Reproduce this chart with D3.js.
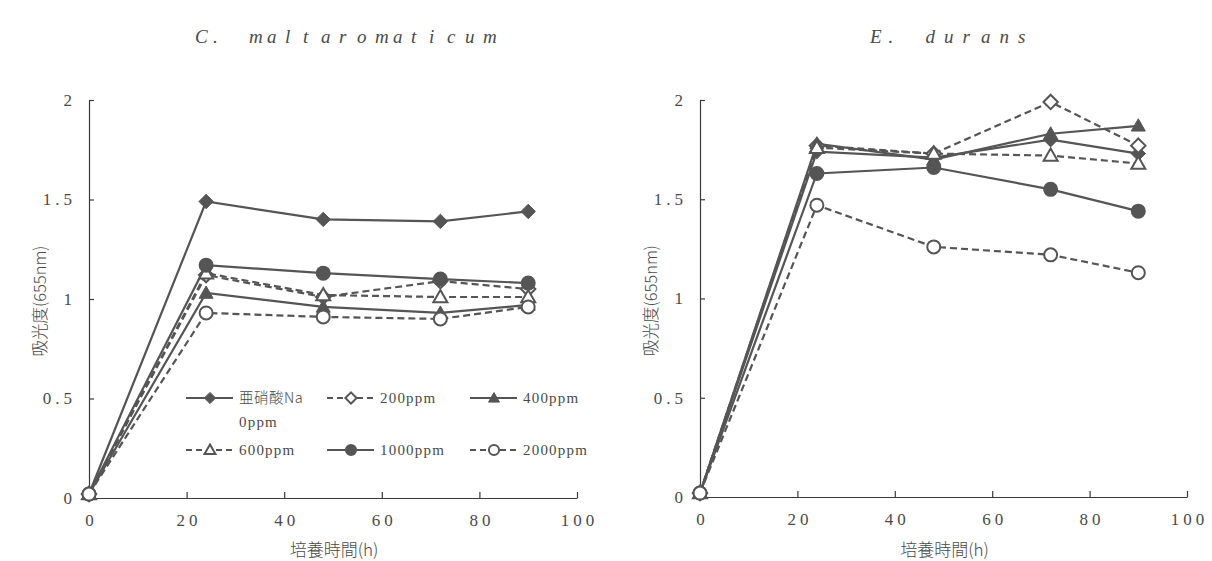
<!DOCTYPE html>
<html><head><meta charset="utf-8">
<script src="https://cdn.jsdelivr.net/npm/d3@7"></script>
<style>
body{margin:0;background:#fff;}
svg{display:block;}
</style></head>
<body>
<svg id="c" width="1212" height="561"></svg>
<script>
// ---- data ----
const hours = [0, 24, 48, 72, 90];
const seriesNames = ["亜硝酸Na 0ppm", "200ppm", "400ppm", "600ppm", "1000ppm", "2000ppm"];
const seriesMarkers = ["diamond", "diamond", "triangle", "triangle", "circle", "circle"];
const seriesFilled = [true, false, true, false, true, false];
const seriesDashed = [false, true, false, true, false, true];

const cmaltValues0 = [0.02, 1.49, 1.40, 1.39, 1.44];
const cmaltValues200 = [0.02, 1.12, 1.01, 1.09, 1.05];
const cmaltValues400 = [0.02, 1.03, 0.96, 0.93, 0.97];
const cmaltValues600 = [0.02, 1.13, 1.02, 1.01, 1.01];
const cmaltValues1000 = [0.02, 1.17, 1.13, 1.10, 1.08];
const cmaltValues2000 = [0.02, 0.93, 0.91, 0.90, 0.96];

const eduranValues0 = [0.02, 1.74, 1.71, 1.80, 1.73];
const eduranValues200 = [0.02, 1.77, 1.73, 1.99, 1.77];
const eduranValues400 = [0.02, 1.78, 1.70, 1.83, 1.87];
const eduranValues600 = [0.02, 1.76, 1.73, 1.72, 1.68];
const eduranValues1000 = [0.02, 1.63, 1.66, 1.55, 1.44];
const eduranValues2000 = [0.02, 1.47, 1.26, 1.22, 1.13];

const xTicks = [0, 20, 40, 60, 80, 100];
const yTicks = [0, 0.5, 1, 1.5, 2];
const titles = ["C. maltaromaticum", "E. durans"];
const xLabel = "培養時間(h)";
const yLabel = "吸光度(655nm)";

const cmalt = [cmaltValues0, cmaltValues200, cmaltValues400, cmaltValues600, cmaltValues1000, cmaltValues2000];
const eduran = [eduranValues0, eduranValues200, eduranValues400, eduranValues600, eduranValues1000, eduranValues2000];

// ---- drawing ----
const svg = d3.select("#c");
const INK = "#555";
const AX = "#3a3a3a";
const TXT = "#4a4a4a";
const serif = "'Liberation Serif', 'DejaVu Serif', serif";
const jp = "'Noto Sans CJK JP', 'Noto Sans', sans-serif";

function marker(g, type, filled, cx, cy, sc) {
  sc = sc || 1;
  const fill = filled ? INK : "#fff";
  if (type === "circle") {
    g.append("circle").attr("cx", cx).attr("cy", cy).attr("r", 6.5 * sc)
      .attr("fill", fill).attr("stroke", INK).attr("stroke-width", 2);
  } else if (type === "diamond") {
    const s = 7.2 * sc;
    g.append("path").attr("d", `M${cx},${cy - s}L${cx + s},${cy}L${cx},${cy + s}L${cx - s},${cy}Z`)
      .attr("fill", fill).attr("stroke", INK).attr("stroke-width", filled ? 1 : 2);
  } else {
    const s = 7 * sc;
    g.append("path").attr("d", `M${cx},${cy - s}L${cx + s},${cy + s * 0.75}L${cx - s},${cy + s * 0.75}Z`)
      .attr("fill", fill).attr("stroke", INK).attr("stroke-width", filled ? 1 : 2);
  }
}

function panel(cfg) {
  const x = d3.scaleLinear().domain([0, 100]).range([cfg.x0, cfg.x1]);
  const y = d3.scaleLinear().domain([0, 2]).range([cfg.y0, cfg.y1]);
  const g = svg.append("g");

  const xa = g.append("g").attr("transform", `translate(0,${cfg.y0})`)
    .call(d3.axisBottom(x).tickValues(xTicks).tickSizeInner(-6).tickSizeOuter(0).tickPadding(16).tickFormat(d3.format("d")));
  const ya = g.append("g").attr("transform", `translate(${cfg.x0},0)`)
    .call(d3.axisLeft(y).tickValues(yTicks).tickSizeInner(-5).tickSizeOuter(0).tickPadding(13).tickFormat(d => String(d)));
  [xa, ya].forEach(a => {
    a.attr("font-family", null).attr("font-size", null);
    a.select(".domain").attr("stroke", AX).attr("stroke-width", 1.2);
    a.selectAll(".tick line").attr("stroke", AX).attr("stroke-width", 1.2);
    a.selectAll(".tick text").attr("fill", TXT).style("font-family", serif)
      .style("font-size", "17px").attr("letter-spacing", 4);
  });
  xa.selectAll(".tick text").attr("dx", 2);

  const line = d3.line().x((d, i) => x(hours[i])).y(d => y(d));
  cfg.data.forEach((vals, k) => {
    g.append("path").attr("d", line(vals)).attr("fill", "none").attr("stroke", INK)
      .attr("stroke-width", 2.2).attr("stroke-dasharray", seriesDashed[k] ? "7,4" : null);
  });
  cfg.data.forEach((vals, k) => {
    vals.forEach((v, i) => marker(g, seriesMarkers[k], seriesFilled[k], x(hours[i]), y(v)));
  });

  // title with monospaced pitch
  const chars = Array.from(cfg.title);
  g.append("text").attr("x", chars.map((c, i) => cfg.titleX + i * cfg.pitch).join(" ")).attr("y", 43)
    .text(cfg.title).style("font-family", serif).attr("font-style", "italic")
    .style("font-size", "19px").attr("fill", TXT);

  g.append("text").attr("x", (cfg.x0 + cfg.x1) / 2 + 1).attr("y", 556).attr("text-anchor", "middle")
    .text(xLabel).style("font-family", jp).style("font-size", "17px").attr("fill", TXT).attr("font-weight", 300);
  g.append("text").attr("transform", `translate(${cfg.x0 - 43},${(cfg.y0 + cfg.y1) / 2 + 2}) rotate(-90)`)
    .attr("text-anchor", "middle").text(yLabel).style("font-family", jp).style("font-size", "16.5px")
    .attr("fill", TXT).attr("font-weight", 300);
  return g;
}

panel({ x0: 89, x1: 577, y0: 498, y1: 100, data: cmalt, title: titles[0], titleX: 195, pitch: 18 });
panel({ x0: 700, x1: 1187, y0: 497, y1: 100, data: eduran, title: titles[1], titleX: 870, pitch: 18.5 });

// legend (left chart)
const legendPos = [[186, 398], [327, 398], [470, 398], [186, 450], [327, 450], [470, 450]];
seriesNames.forEach((name, k) => {
  const [lx, ly] = legendPos[k];
  const lg = svg.append("g");
  lg.append("line").attr("x1", lx).attr("x2", lx + 47).attr("y1", ly).attr("y2", ly)
    .attr("stroke", INK).attr("stroke-width", 2.2).attr("stroke-dasharray", seriesDashed[k] ? "6,4" : null);
  marker(lg, seriesMarkers[k], seriesFilled[k], lx + 24, ly, 0.78);
  const parts = k === 0 ? ["亜硝酸Na", "0ppm"] : [name];
  parts.forEach((p, j) => {
    const cjk = /[^\x00-\x7f]/.test(p);
    lg.append("text").attr("x", lx + 53).attr("y", ly + 5 + j * 24).text(p)
      .style("font-family", cjk ? jp : serif).style("font-size", cjk ? "14.5px" : "15px")
      .attr("letter-spacing", cjk ? 0.5 : 1.2).attr("fill", TXT).attr("font-weight", 300);
  });
});
</script>
</body></html>
